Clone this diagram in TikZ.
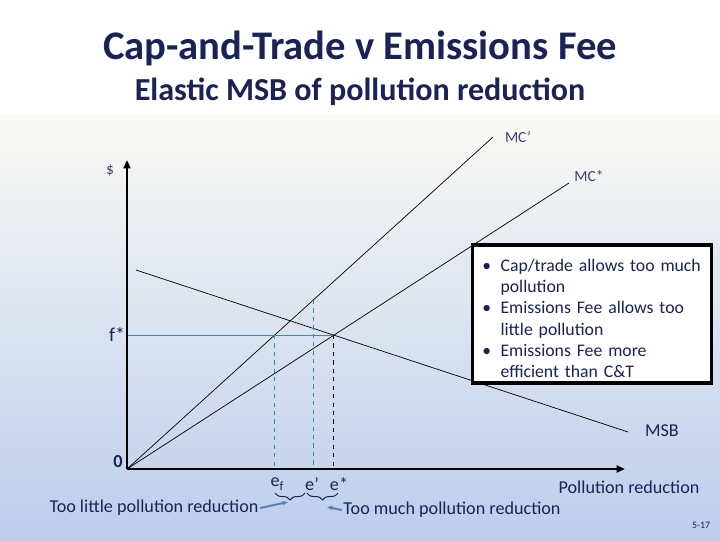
\documentclass[tikz,border=0pt]{standalone}
\usepackage{fontspec}
\setmainfont{Carlito}
\usetikzlibrary{arrows.meta,decorations.pathreplacing}

\definecolor{navy}{RGB}{25,35,85}
\definecolor{feeblue}{RGB}{55,140,180}
\definecolor{pointblue}{RGB}{90,125,180}
\definecolor{paper}{RGB}{250,249,244}
\definecolor{sky}{RGB}{188,205,236}

\tikzset{
    curve/.style={black, line width=0.5pt},
    axis/.style={black, line width=1.6pt, -{Triangle[length=6pt,width=5pt]}},
    feeline/.style={feeblue, line width=0.7pt},
    lbl/.style={text=navy, font=\fontsize{12.9}{15}\selectfont, inner sep=1pt},
    small/.style={text=navy!85, font=\fontsize{11}{13}\selectfont, inner sep=1pt},
    pointer/.style={pointblue, line width=1.4pt, -{Stealth[length=4pt]}},
    gap/.style={decorate, decoration={brace, amplitude=5pt, mirror}, navy, line width=0.7pt},
    notebox/.style={draw=black, line width=2.2pt, fill=white, text=navy,
        text width=162pt, inner sep=4pt, align=left,
        font=\fontsize{12.6}{15}\selectfont}
}

\newcommand{\bulletline}[1]{\par\hangindent=16pt\hangafter=1\noindent
    \makebox[16pt][l]{\hspace{3pt}\textbullet}#1\par}

\begin{document}
\begin{tikzpicture}[x=0.025cm, y=-0.025cm]
    
    % background
    \useasboundingbox (0,0) rectangle (720,540);
    \fill[white] (0,0) rectangle (720,115);
    \shade[top color=paper, bottom color=sky] (0,115) rectangle (720,540);
    
    \node[text=navy, font=\fontsize{28.9}{32}\selectfont\bfseries] (title) at (360,48)
        {Cap-and-Trade v Emissions Fee};
    \node[text=navy, font=\fontsize{22.8}{26}\selectfont\bfseries] (subtitle) at (360,92)
        {Elastic MSB of pollution reduction};
    
    % points on the curves
    \coordinate (O) at (127,469);
    \coordinate (ytop) at (127,160);
    \coordinate (xend) at (625,469);
    \coordinate (mcp) at (493,137);
    \coordinate (mcs) at (569,183);
    \coordinate (msbL) at (136,270);
    \coordinate (msbR) at (628,432);
    \coordinate (star) at (333,335);
    \coordinate (fee) at (274.5,335);
    \coordinate (cap) at (313,300);
    
    \draw[curve] (O) -- (mcp);
    \draw[curve] (O) -- (mcs);
    \draw[curve] (msbL) -- (msbR);
    
    \draw[feeline] (127,335) -- (star);
    \draw[feeline, dashed] (fee) -- (fee |- O);
    \draw[feeline, dashed] (cap) -- (cap |- O);
    \draw[black, dashed, line width=0.7pt] (star) -- (star |- O);
    
    \draw[axis] (O) -- (ytop);
    \draw[axis] (O) -- (xend);
    
    \node[small] (dollar) at (110,170) {\$};
    \node[text=navy, font=\fontsize{14}{16}\selectfont] (fstar) at (117,335) {f*};
    \node[text=navy, font=\fontsize{13}{15}\selectfont\bfseries] (zero) at (118,462) {0};
    \node[small] (mcplabel) at (518,137) {MC’};
    \node[small] (mcslabel) at (589,176) {MC*};
    \node[lbl] (msblabel) at (662,431) {MSB};
    
    \node[lbl] (ef) at (277,484) {e\raisebox{-0.45ex}{\fontsize{9}{10}\selectfont f}};
    \node[lbl] (ecap) at (312,484) {e’};
    \node[lbl] (estar) at (339,484) {e*};
    
    % braces between the e's
    \coordinate (tipA) at (288,502);
    \coordinate (tipB) at (327,507);
    \draw[gap] (275,493) -- (305,493);
    \draw[gap] (307,493) -- (338,493);
    
    \node[lbl] (little) at (154,508) {Too little pollution reduction};
    \node[lbl] (much) at (452,510) {Too much pollution reduction};
    \draw[pointer] (little.east) -- (tipA);
    \draw[pointer] (much.west) -- (tipB);
    
    \node[lbl] (xlabel) at (629,487) {Pollution reduction};
    \node[text=navy, font=\fontsize{7}{8}\selectfont] (page) at (701,525) {5-17};
    
    \node[notebox] (note) at (592,314) {%
        \hyphenpenalty=10000\exhyphenpenalty=10000
        \bulletline{Cap/trade allows too much pollution}%
        \bulletline{Emissions Fee allows too little pollution}%
        \bulletline{Emissions Fee more efficient than C\&T}};
    
\end{tikzpicture}
\end{document}
